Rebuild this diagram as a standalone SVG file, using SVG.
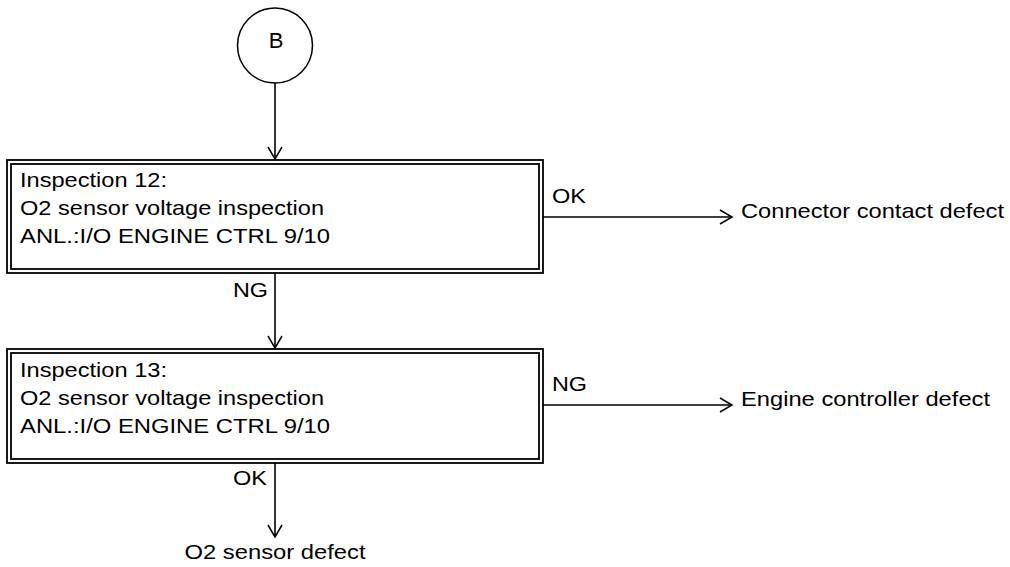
<svg xmlns="http://www.w3.org/2000/svg" width="1010" height="567" viewBox="0 0 1010 567">
<style>
text{font-family:"Liberation Sans",Arial,sans-serif;font-size:21px;fill:#000}
.box{fill:none;stroke:#000;stroke-width:1.8}
.conn{fill:none;stroke:#000;stroke-width:1.6}
</style>
<defs>
<marker id="arr" markerUnits="userSpaceOnUse" markerWidth="16" markerHeight="18" viewBox="-14 -9 16 18" refX="0" refY="0" orient="auto">
<path d="M-12,-7 L0,0 L-12,7" fill="none" stroke="#000" stroke-width="1.5"/>
</marker>
</defs>
<rect width="1010" height="567" fill="#fff"/>
<g id="connectors">
<line class="conn" x1="275" y1="83" x2="275" y2="159" marker-end="url(#arr)"/>
<line class="conn" x1="275" y1="273" x2="275" y2="348" marker-end="url(#arr)"/>
<line class="conn" x1="275" y1="463" x2="275" y2="537" marker-end="url(#arr)"/>
<line class="conn" x1="543" y1="217" x2="732" y2="217" marker-end="url(#arr)"/>
<line class="conn" x1="543" y1="405" x2="732" y2="405" marker-end="url(#arr)"/>
<text x="552" y="203" textLength="34" lengthAdjust="spacingAndGlyphs">OK</text>
<text x="268" y="297" text-anchor="end" textLength="35" lengthAdjust="spacingAndGlyphs">NG</text>
<text x="552" y="391" textLength="35" lengthAdjust="spacingAndGlyphs">NG</text>
<text x="267" y="485" text-anchor="end" textLength="34" lengthAdjust="spacingAndGlyphs">OK</text>
</g>
<g id="startB">
<circle cx="275" cy="45.5" r="37.5" fill="none" stroke="#000" stroke-width="1.5"/>
<text x="276" y="48" text-anchor="middle" font-size="22" dominant-baseline="auto" style="font-size:22px" transform="translate(0,0)"><tspan dy="0">B</tspan></text>
</g>
<g id="insp12">
<rect class="box" x="7" y="160" width="536" height="113"/>
<rect class="box" x="11" y="164" width="528" height="105"/>
<text x="20" y="187" textLength="147" lengthAdjust="spacingAndGlyphs">Inspection 12:</text>
<text x="20" y="215" textLength="304" lengthAdjust="spacingAndGlyphs">O2 sensor voltage inspection</text>
<text x="20" y="243" textLength="310" lengthAdjust="spacingAndGlyphs">ANL.:I/O ENGINE CTRL 9/10</text>
</g>
<g id="insp13">
<rect class="box" x="7" y="349" width="536" height="114"/>
<rect class="box" x="11" y="353" width="528" height="106"/>
<text x="20" y="377" textLength="147" lengthAdjust="spacingAndGlyphs">Inspection 13:</text>
<text x="20" y="405" textLength="304" lengthAdjust="spacingAndGlyphs">O2 sensor voltage inspection</text>
<text x="20" y="433" textLength="310" lengthAdjust="spacingAndGlyphs">ANL.:I/O ENGINE CTRL 9/10</text>
</g>
<g id="connectorContact">
<text x="741" y="218" textLength="263" lengthAdjust="spacingAndGlyphs">Connector contact defect</text>
</g>
<g id="engineController">
<text x="741" y="406" textLength="249" lengthAdjust="spacingAndGlyphs">Engine controller defect</text>
</g>
<g id="o2Sensor">
<text x="275" y="559" text-anchor="middle" textLength="181" lengthAdjust="spacingAndGlyphs">O2 sensor defect</text>
</g>
</svg>
